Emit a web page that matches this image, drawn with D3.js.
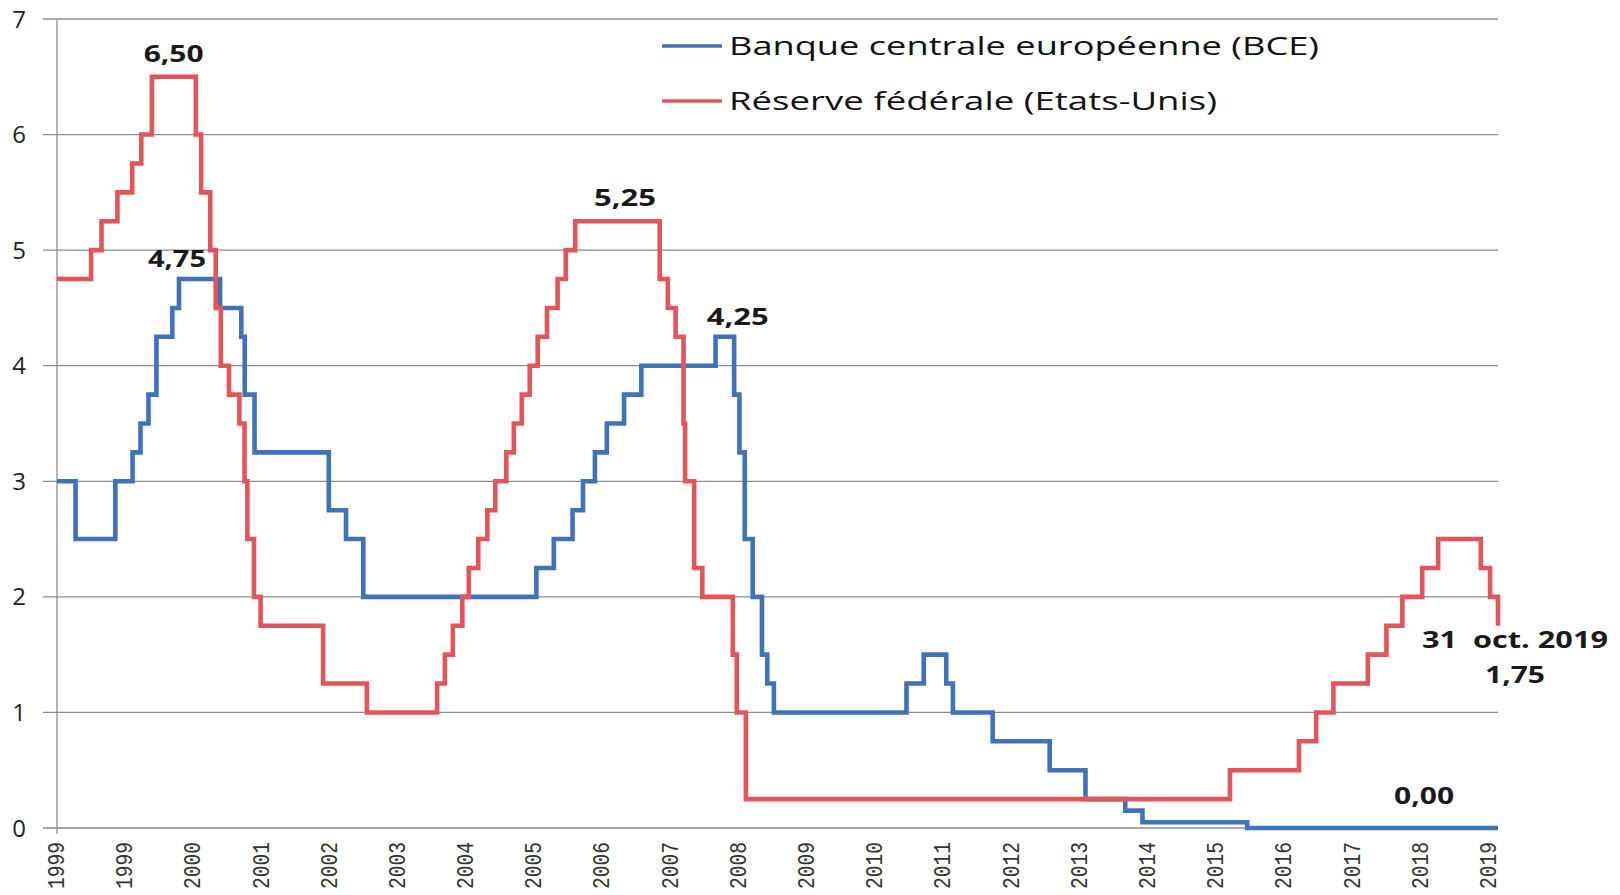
<!DOCTYPE html>
<html>
<head>
<meta charset="utf-8">
<script src="https://cdn.jsdelivr.net/npm/d3@7"></script>
<style>
  body { margin: 0; background: #fff; }
  svg { display: block; }
</style>
</head>
<body>
<div id="chart"></div>
<script>
// Taux directeurs BCE et Fed, 1999 - oct. 2019
var width = 1620;
var height = 895;
var margin = { top: 19, right: 122, bottom: 67, left: 57 };

// BCE : taux des opérations principales de refinancement (date d'effet)
var ecbDates = ["1999-01-01", "1999-04-09", "1999-11-05", "2000-02-04", "2000-03-17", "2000-04-28",
  "2000-06-09", "2000-09-01", "2000-10-06", "2001-05-11", "2001-08-31", "2001-09-18", "2001-11-09",
  "2002-12-06", "2003-03-07", "2003-06-06", "2005-12-06", "2006-03-08", "2006-06-15", "2006-08-09",
  "2006-10-11", "2006-12-13", "2007-03-14", "2007-06-13", "2008-07-09", "2008-10-15", "2008-11-12",
  "2008-12-10", "2009-01-21", "2009-03-11", "2009-04-08", "2009-05-13", "2011-04-13", "2011-07-13",
  "2011-11-09", "2011-12-14", "2012-07-11", "2013-05-08", "2013-11-13", "2014-06-11", "2014-09-10",
  "2016-03-16", "2019-10-31"];
var ecbRates = [3.00, 2.50, 3.00, 3.25, 3.50, 3.75,
  4.25, 4.50, 4.75, 4.50, 4.25, 3.75, 3.25,
  2.75, 2.50, 2.00, 2.25, 2.50, 2.75, 3.00,
  3.25, 3.50, 3.75, 4.00, 4.25, 3.75, 3.25,
  2.50, 2.00, 1.50, 1.25, 1.00, 1.25, 1.50,
  1.25, 1.00, 0.75, 0.50, 0.25, 0.15, 0.05,
  0.00, 0.00];

// Réserve fédérale : taux cible des fonds fédéraux
var fedDates = ["1999-01-01", "1999-06-30", "1999-08-24", "1999-11-16", "2000-02-02", "2000-03-21",
  "2000-05-16", "2001-01-03", "2001-01-31", "2001-03-20", "2001-04-18", "2001-05-15", "2001-06-27",
  "2001-08-21", "2001-09-17", "2001-10-02", "2001-11-06", "2001-12-11", "2002-11-06", "2003-06-25",
  "2004-06-30", "2004-08-10", "2004-09-21", "2004-11-10", "2004-12-14", "2005-02-02", "2005-03-22",
  "2005-05-03", "2005-06-30", "2005-08-09", "2005-09-20", "2005-11-01", "2005-12-13", "2006-01-31",
  "2006-03-28", "2006-05-10", "2006-06-29", "2007-09-18", "2007-10-31", "2007-12-11", "2008-01-22",
  "2008-01-30", "2008-03-18", "2008-04-30", "2008-10-08", "2008-10-29", "2008-12-16", "2015-12-16",
  "2016-12-14", "2017-03-15", "2017-06-14", "2017-12-13", "2018-03-21", "2018-06-13", "2018-09-26",
  "2018-12-19", "2019-08-01", "2019-09-19", "2019-10-31"];
var fedRates = [4.75, 5.00, 5.25, 5.50, 5.75, 6.00,
  6.50, 6.00, 5.50, 5.00, 4.50, 4.00, 3.75,
  3.50, 3.00, 2.50, 2.00, 1.75, 1.25, 1.00,
  1.25, 1.50, 1.75, 2.00, 2.25, 2.50, 2.75,
  3.00, 3.25, 3.50, 3.75, 4.00, 4.25, 4.50,
  4.75, 5.00, 5.25, 4.75, 4.50, 4.25, 3.50,
  3.00, 2.25, 2.00, 1.50, 1.00, 0.25, 0.50,
  0.75, 1.00, 1.25, 1.50, 1.75, 2.00, 2.25,
  2.50, 2.25, 2.00, 1.75];

// Libellés de l'axe des abscisses (un tous les 360 jours, comme dans Excel)
var xTickLabels = ["1999", "1999", "2000", "2001", "2002", "2003", "2004", "2005", "2006", "2007", "2008",
  "2009", "2010", "2011", "2012", "2013", "2014", "2015", "2016", "2017", "2018", "2019"];
var yTicks = [0, 1, 2, 3, 4, 5, 6, 7];

var seriesNames = ["Banque centrale européenne (BCE)", "Réserve fédérale (Etats-Unis)"];
var colors = ["#3f72b8", "#e2555a"];

var parse = d3.timeParse("%Y-%m-%d");

var ecb = ecbDates.map(function(d, i) { return { date: parse(d), value: ecbRates[i] }; });
var fed = fedDates.map(function(d, i) { return { date: parse(d), value: fedRates[i] }; });

var svg = d3.select("#chart")
  .append("svg")
  .attr("width", width)
  .attr("height", height);

svg.append("rect").attr("width", width).attr("height", height).attr("fill", "#fff");

var x = d3.scaleTime()
  .domain([parse("1999-01-01"), parse("2019-10-31")])
  .range([margin.left, width - margin.right]);

var y = d3.scaleLinear()
  .domain([0, 7])
  .range([height - margin.bottom, margin.top]);

// grille horizontale
svg.append("g")
  .selectAll("line")
  .data(yTicks)
  .enter()
  .append("line")
  .attr("x1", margin.left - 14)
  .attr("x2", width - margin.right)
  .attr("y1", function(d) { return y(d); })
  .attr("y2", function(d) { return y(d); })
  .style("stroke", "#8c8c8c")
  .style("stroke-width", 1.3);

// axe vertical
svg.append("line")
  .attr("x1", margin.left).attr("x2", margin.left)
  .attr("y1", y(7)).attr("y2", y(0) + 6)
  .style("stroke", "#8c8c8c")
  .style("stroke-width", 1.3);

// libellés Y
svg.append("g")
  .selectAll("text")
  .data(yTicks)
  .enter()
  .append("text")
  .attr("x", margin.left - 31)
  .attr("y", function(d) { return y(d); })
  .attr("dy", "0.36em")
  .attr("text-anchor", "end")
  .style("font-family", "'Open Sans', sans-serif")
  .style("font-size", "24px")
  .style("fill", "#222")
  .text(function(d) { return d; });

// libellés X
var tickDates = xTickLabels.map(function(d, i) { return d3.timeDay.offset(parse("1999-01-01"), i * 360); });
svg.append("g")
  .selectAll("text")
  .data(tickDates)
  .enter()
  .append("text")
  .attr("transform", function(d) { return "translate(" + (x(d) + 7) + "," + (y(0) + 14) + ") rotate(-90)"; })
  .attr("text-anchor", "end")
  .attr("textLength", 47)
  .attr("lengthAdjust", "spacingAndGlyphs")
  .style("font-family", "'Liberation Mono', monospace")
  .style("font-size", "23px")
  .style("fill", "#333")
  .text(function(d, i) { return xTickLabels[i]; });

// courbes en escalier
var line = d3.line()
  .x(function(d) { return x(d.date); })
  .y(function(d) { return y(d.value); })
  .curve(d3.curveStepAfter);

[ecb, fed].forEach(function(s, i) {
  svg.append("path")
    .datum(s)
    .attr("d", line)
    .style("fill", "none")
    .style("stroke", colors[i])
    .style("stroke-width", 4.6)
    .style("stroke-linejoin", "miter");
});

// légende
var legendWidths = [590, 488];
seriesNames.forEach(function(name, i) {
  var ly = 46 + i * 55;
  svg.append("line")
    .attr("x1", 662).attr("x2", 722)
    .attr("y1", ly).attr("y2", ly)
    .style("stroke", colors[i])
    .style("stroke-width", 3.5);
  svg.append("text")
    .attr("x", 729)
    .attr("y", ly + 9)
    .attr("textLength", legendWidths[i])
    .attr("lengthAdjust", "spacingAndGlyphs")
    .style("font-family", "'Open Sans', sans-serif")
    .style("font-size", "25px")
    .style("fill", "#111")
    .text(name);
});

// étiquettes de valeurs
function label(txt, cx, baseline, w) {
  svg.append("text")
    .attr("x", cx - w / 2)
    .attr("y", baseline)
    .attr("textLength", w)
    .attr("lengthAdjust", "spacingAndGlyphs")
    .attr("xml:space", "preserve")
    .style("white-space", "pre")
    .style("font-family", "'Open Sans', sans-serif")
    .style("font-weight", "bold")
    .style("font-size", "24px")
    .style("fill", "#1a1a1a")
    .text(txt);
}
label("6,50", x(parse("2000-09-08")), y(6.50) - 15, 60);
label("4,75", x(parse("2000-10-06")) - 2, y(4.75) - 12, 58);
label("5,25", x(parse("2007-01-20")) + 11, y(5.25) - 15, 62);
label("4,25", x(parse("2008-09-01")) + 12, y(4.25) - 12, 62);
label("31  oct. 2019", x(parse("2019-10-31")) + 17, y(1.75) + 22, 186);
label("1,75", x(parse("2019-10-31")) + 17, y(1.75) + 57, 60);
label("0,00", x(parse("2018-11-01")) - 5, y(0) - 24, 60);
</script>
</body>
</html>
